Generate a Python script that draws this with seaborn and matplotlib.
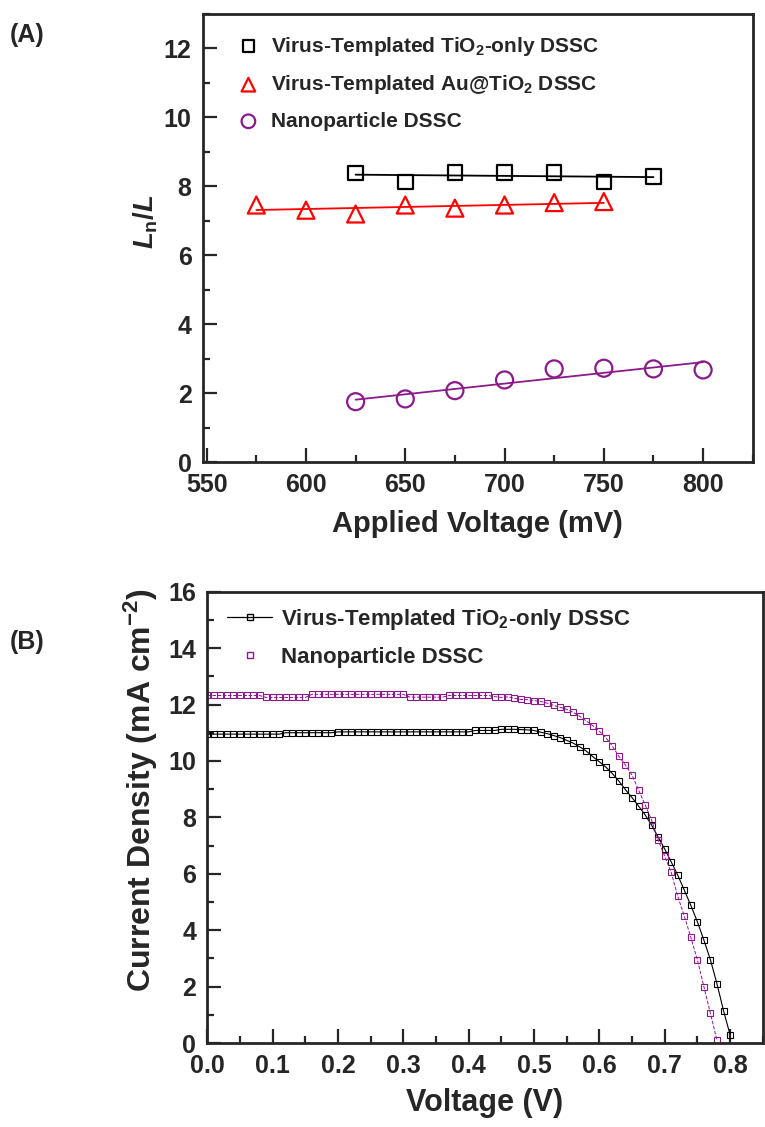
import numpy as np
import pandas as pd
import seaborn as sns
import matplotlib.pyplot as plt
from matplotlib.lines import Line2D
from matplotlib.ticker import MultipleLocator

# (A) Ln/L vs applied voltage
v_tio2 = [625, 650, 675, 700, 725, 750, 775]
ln_tio2 = [8.38, 8.12, 8.39, 8.39, 8.39, 8.12, 8.27]
v_au = [575, 600, 625, 650, 675, 700, 725, 750]
ln_au = [7.45, 7.30, 7.19, 7.45, 7.36, 7.45, 7.52, 7.55]
v_np = [625, 650, 675, 700, 725, 750, 775, 800]
ln_np = [1.75, 1.83, 2.07, 2.38, 2.70, 2.72, 2.70, 2.67]

# (B) J-V curves, 0.01 V steps
volt_tio2 = [round(0.01 * i, 2) for i in range(81)]   # 0.00 ... 0.80
j_tio2 = ([10.95] * 12 + [11.00] * 8 + [11.03] * 21 + [11.08] * 4
          + [11.12, 11.12, 11.12, 11.11, 11.10, 11.08,
             11.02, 10.97, 10.90, 10.83, 10.73, 10.63, 10.50, 10.35, 10.15, 9.97,
             9.78, 9.55, 9.28, 8.98, 8.70, 8.40, 8.09, 7.72, 7.30, 6.88,
             6.42, 5.95, 5.42, 4.88, 4.30, 3.65, 2.95, 2.10, 1.15, 0.30])
volt_np = [round(0.01 * i, 2) for i in range(79)]     # 0.00 ... 0.78
j_np = ([12.32] * 9 + [12.25] * 7 + [12.36] * 15 + [12.26] * 6 + [12.32] * 7
        + [12.28, 12.25, 12.27, 12.22, 12.18, 12.17, 12.14,
           12.11, 12.05, 11.97, 11.90, 11.83, 11.72, 11.58, 11.42, 11.25, 11.05,
           10.83, 10.52, 10.16, 9.85, 9.50, 8.97, 8.45, 7.90, 7.20, 6.62,
           6.05, 5.20, 4.50, 3.75, 2.95, 2.00, 1.05, 0.10])

label_tio2 = 'Virus-Templated TiO$_2$-only DSSC'
label_au = 'Virus-Templated Au@TiO$_2$ DSSC'
label_np = 'Nanoparticle DSSC'
purple = '#8B1A8B'

sns.set_style("ticks")
plt.rcParams['font.family'] = ['Liberation Sans', 'DejaVu Sans']
plt.rcParams['font.weight'] = 'bold'
plt.rcParams['mathtext.fontset'] = 'custom'
plt.rcParams['mathtext.rm'] = 'Liberation Sans:bold'
plt.rcParams['mathtext.bf'] = 'Liberation Sans:bold'
plt.rcParams['mathtext.it'] = 'Liberation Sans:italic:bold'

fig = plt.figure(figsize=(7.65, 11.27), dpi=100)
ax1 = fig.add_axes([0.265, 0.590, 0.719, 0.398])
ax2 = fig.add_axes([0.271, 0.0745, 0.726, 0.4005])

# ---- panel A
series = [(v_tio2, ln_tio2, 'black', 's', 110, label_tio2),
          (v_au, ln_au, 'red', '^', 150, label_au),
          (v_np, ln_np, purple, 'o', 150, label_np)]
for xs, ys, col, mk, size, lab in series:
    coef = np.polyfit(xs, ys, 1)
    xfit = np.array([xs[0], xs[-1]])
    sns.lineplot(x=xfit, y=np.polyval(coef, xfit), ax=ax1, color=col,
                 linewidth=1.3, legend=False)
    sns.scatterplot(x=xs, y=ys, ax=ax1, marker=mk, s=size, facecolors='none',
                    edgecolor=col, linewidth=1.6, label=lab)

ax1.set_xlim(548, 825)
ax1.set_ylim(0, 13)
ax1.xaxis.set_major_locator(MultipleLocator(50))
ax1.xaxis.set_minor_locator(MultipleLocator(25))
ax1.yaxis.set_major_locator(MultipleLocator(2))
ax1.yaxis.set_minor_locator(MultipleLocator(1))
ax1.set_xlabel('Applied Voltage (mV)', fontsize=21, fontweight='bold',
               labelpad=9)
ax1.set_ylabel(r'$\mathit{L}_{\mathrm{n}}/\mathit{L}$', fontsize=20)
ax1.yaxis.set_label_coords(-0.078, 0.535)
ax1.legend(loc='upper left', bbox_to_anchor=(0.03, 0.995), frameon=False,
           fontsize=15, markerscale=0.8, handletextpad=0.6, labelspacing=0.75,
           handlelength=1.0)

# ---- panel B
sns.lineplot(x=volt_tio2, y=j_tio2, ax=ax2, color='black', linewidth=0.8,
             marker='s', markersize=4.5, markerfacecolor='none',
             markeredgecolor='black', markeredgewidth=0.8, sort=False,
             legend=False)
sns.lineplot(x=volt_np, y=j_np, ax=ax2, color=purple, linewidth=0.7,
             linestyle='--', marker='s', markersize=4.5,
             markerfacecolor='none', markeredgecolor=purple,
             markeredgewidth=0.8, sort=False, legend=False)

ax2.set_xlim(0, 0.85)
ax2.set_ylim(0, 16)
ax2.xaxis.set_major_locator(MultipleLocator(0.1))
ax2.xaxis.set_minor_locator(MultipleLocator(0.05))
ax2.yaxis.set_major_locator(MultipleLocator(2))
ax2.yaxis.set_minor_locator(MultipleLocator(1))
ax2.xaxis.set_major_formatter(plt.FormatStrFormatter('%.1f'))
ax2.set_xlabel('Voltage (V)', fontsize=22, fontweight='bold', labelpad=7)
ax2.set_ylabel('Current Density (mA cm$^{-2}$)', fontsize=23,
               fontweight='bold')
ax2.yaxis.set_label_coords(-0.085, 0.56)
handles = [Line2D([], [], color='black', linewidth=0.9, marker='s',
                  markersize=4.5, markerfacecolor='none'),
           Line2D([], [], color=purple, linestyle='none', marker='s',
                  markersize=4.5, markerfacecolor='none')]
ax2.legend(handles, [label_tio2, label_np], loc='upper left',
           bbox_to_anchor=(0.0, 1.01), frameon=False, fontsize=16,
           handlelength=2.0, handletextpad=0.4, labelspacing=0.65)

for ax in (ax1, ax2):
    for sp in ax.spines.values():
        sp.set_linewidth(2.0)
        sp.set_visible(True)
    ax.tick_params(which='both', direction='in', top=False, right=False,
                   labelsize=18, width=1.6, pad=8)
    ax.tick_params(which='major', length=10)
    ax.tick_params(which='minor', length=5)
    for t in ax.get_xticklabels() + ax.get_yticklabels():
        t.set_fontweight('bold')

fig.text(0.013, 0.963, '(A)', fontsize=18, fontweight='bold')
fig.text(0.013, 0.424, '(B)', fontsize=18, fontweight='bold')

fig.savefig('out.png', dpi=100)
